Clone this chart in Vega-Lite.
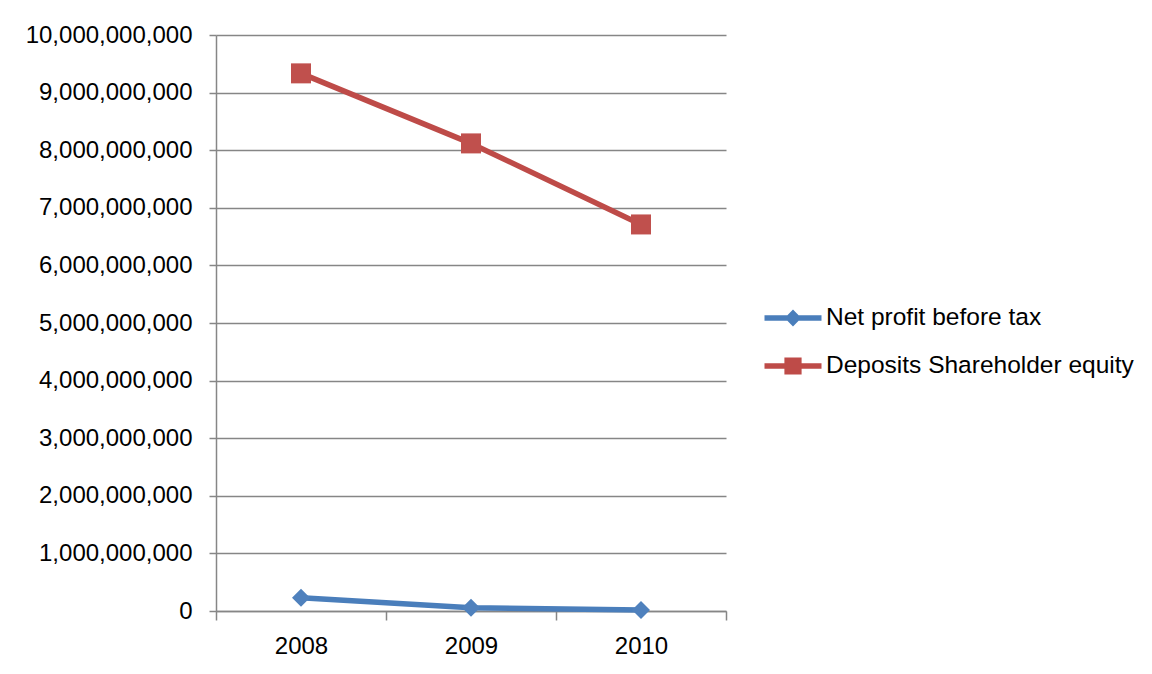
{
  "$schema": "https://vega.github.io/schema/vega-lite/v6.json",
  "width": 510,
  "height": 576,
  "autosize": {"type": "none"},
  "padding": {"left": 216, "top": 35, "right": 426, "bottom": 63},
  "background": "white",
  "config": {"view": {"stroke": null}, "font": "Liberation Sans"},
  "data": {
    "values": [
      {"year": "2008", "series": "Net profit before tax", "value": 231000000},
      {"year": "2009", "series": "Net profit before tax", "value": 57000000},
      {"year": "2010", "series": "Net profit before tax", "value": 17000000},
      {"year": "2008", "series": "Deposits Shareholder equity", "value": 9334000000},
      {"year": "2009", "series": "Deposits Shareholder equity", "value": 8118000000},
      {"year": "2010", "series": "Deposits Shareholder equity", "value": 6711000000}
    ]
  },
  "encoding": {
    "x": {
      "field": "year",
      "type": "nominal",
      "scale": {"type": "band", "paddingInner": 0, "paddingOuter": 0},
      "axis": {
        "title": null,
        "tickBand": "extent",
        "labelAngle": 0,
        "labelFont": "Liberation Sans",
        "labelFontSize": 24,
        "labelColor": "#000000",
        "labelPadding": 14,
        "tickSize": 9,
        "tickColor": "#868686",
        "tickWidth": 1.5,
        "domainColor": "#868686",
        "domainWidth": 1.5,
        "grid": false
      }
    },
    "y": {
      "field": "value",
      "type": "quantitative",
      "scale": {"domain": [0, 10000000000], "nice": false},
      "axis": {
        "title": null,
        "values": [0, 1000000000, 2000000000, 3000000000, 4000000000, 5000000000, 6000000000, 7000000000, 8000000000, 9000000000, 10000000000],
        "format": ",.0f",
        "labelFont": "Liberation Sans",
        "labelFontSize": 24,
        "labelColor": "#000000",
        "labelPadding": 17,
        "tickSize": 7,
        "tickColor": "#868686",
        "tickWidth": 1.5,
        "gridColor": "#868686",
        "gridWidth": 1.5,
        "domainColor": "#868686",
        "domainWidth": 1.5
      }
    }
  },
  "layer": [
    {
      "mark": {"type": "line", "strokeWidth": 5.5, "strokeJoin": "round", "strokeCap": "round"},
      "encoding": {
        "color": {
          "field": "series",
          "type": "nominal",
          "scale": {"domain": ["Net profit before tax", "Deposits Shareholder equity"], "range": ["#4A7EBB", "#BE4B48"]},
          "legend": null
        }
      }
    },
    {
      "mark": {"type": "point", "filled": true, "opacity": 1},
      "encoding": {
        "color": {
          "field": "series",
          "type": "nominal",
          "scale": {"domain": ["Net profit before tax", "Deposits Shareholder equity"], "range": ["#4F81BD", "#C0504D"]},
          "legend": null
        },
        "shape": {
          "field": "series",
          "type": "nominal",
          "scale": {"domain": ["Net profit before tax", "Deposits Shareholder equity"], "range": ["diamond", "square"]},
          "legend": null
        },
        "size": {
          "field": "series",
          "type": "nominal",
          "scale": {"domain": ["Net profit before tax", "Deposits Shareholder equity"], "range": [324, 400]},
          "legend": null
        }
      }
    },
    {
      "mark": {"type": "point", "filled": true, "opacity": 1, "size": 0},
      "encoding": {
        "color": {
          "field": "series",
          "type": "nominal",
          "scale": {"domain": ["Net profit before tax", "Deposits Shareholder equity"], "range": ["#4A7EBB", "#BE4B48"]},
          "legend": {
            "title": null,
            "orient": "none",
            "legendX": 557,
            "legendY": 263,
            "symbolSize": 1600,
            "symbolStrokeWidth": 0,
            "labelFont": "Liberation Sans",
            "labelFontSize": 24.5,
            "labelColor": "#000000",
            "labelOffset": 13,
            "rowPadding": 16,
            "padding": 0,
            "labelLimit": 400
          }
        },
        "shape": {
          "field": "series",
          "type": "nominal",
          "scale": {
            "domain": ["Net profit before tax", "Deposits Shareholder equity"],
            "range": [
              "M-1.425,-0.14L-0.28,-0.14L0,-0.42L0.28,-0.14L1.425,-0.14L1.425,0.14L0.28,0.14L0,0.42L-0.28,0.14L-1.425,0.14Z",
              "M-1.425,-0.14L-0.43,-0.14L-0.43,-0.43L0.43,-0.43L0.43,-0.14L1.425,-0.14L1.425,0.14L0.43,0.14L0.43,0.43L-0.43,0.43L-0.43,0.14L-1.425,0.14Z"
            ]
          },
          "legend": {
            "title": null,
            "orient": "none",
            "legendX": 557,
            "legendY": 263,
            "symbolSize": 1600,
            "symbolStrokeWidth": 0,
            "labelFont": "Liberation Sans",
            "labelFontSize": 24.5,
            "labelColor": "#000000",
            "labelOffset": 13,
            "rowPadding": 16,
            "padding": 0,
            "labelLimit": 400
          }
        }
      }
    }
  ],
  "resolve": {"scale": {"color": "independent", "shape": "independent"}}
}
